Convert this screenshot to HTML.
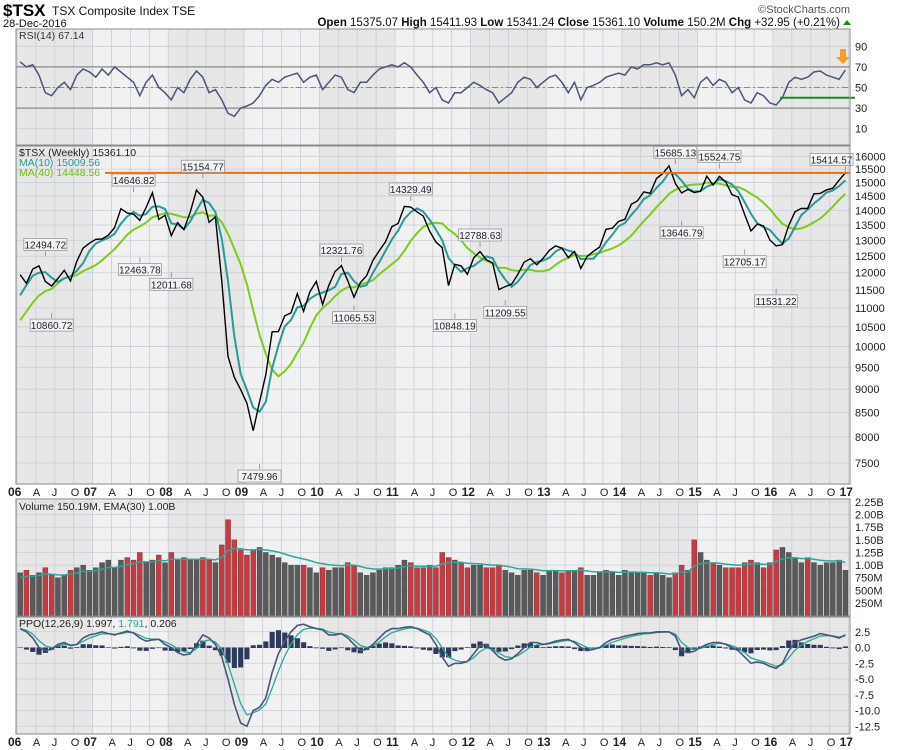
<!DOCTYPE html>
<html><head><meta charset="utf-8"><style>
html,body{margin:0;padding:0;background:#fff;width:900px;height:750px;overflow:hidden}
svg{display:block;font-family:"Liberation Sans",sans-serif}
</style></head><body>
<svg id="c" width="900" height="750" viewBox="0 0 900 750">
<text x="3" y="16" font-size="17" font-weight="bold" fill="#000">$TSX</text>
<text x="52" y="15" font-size="12" fill="#111">TSX Composite Index  TSE</text>
<text x="3" y="27" font-size="11" fill="#111">28-Dec-2016</text>
<text x="850" y="13" font-size="11" fill="#555" text-anchor="end">©StockCharts.com</text>
<text x="840" y="26" font-size="11.5" fill="#111" text-anchor="end"><tspan font-weight="bold">Open</tspan> 15375.07 <tspan font-weight="bold">High</tspan> 15411.93 <tspan font-weight="bold">Low</tspan> 15341.24 <tspan font-weight="bold">Close</tspan> 15361.10 <tspan font-weight="bold">Volume</tspan> 150.2M <tspan font-weight="bold">Chg</tspan> +32.95 (+0.21%)</text>
<polygon points="843,25 851,25 847,20" fill="#1a8a1a"/>
</svg>
<script>
// ---- data (monthly, Jan 2006 .. Dec 2016) ----
const priorCloses=[9369,9607,9903,10423,10669,11012,10383,10825,11272];
const closes=[11946,11688,12111,12204,11745,11613,11831,12074,11761,12345,12752,12908,
13034,13045,13166,13417,14057,13907,13869,13660,14099,14625,13689,13833,
13155,13583,13350,13937,14715,14467,13593,13771,11753,9763,9271,8988,
8695,8123,8720,9325,10370,10375,10787,10868,11395,10911,11447,11746,
11094,11630,12038,12211,11763,11294,11713,11914,12369,12676,12953,13443,
13552,14137,14116,13945,13803,13301,12946,12769,11624,12252,12204,11955,
12452,12644,12392,12293,11513,11597,11665,11949,12317,12423,12239,12434,
12685,12822,12750,12457,12650,12129,12487,12654,12787,13361,13395,13622,
13695,14210,14335,14652,14604,15146,15331,15626,14961,14613,14745,14632,
14674,15234,14902,15225,15014,14553,14468,13859,13307,13529,13470,13010,
12822,12860,13494,13951,14066,14065,14583,14598,14725,14787,15083,15361];
const rsi=[75,70,72,62,45,42,50,55,48,62,68,65, 60,68,62,70,65,60,55,42,55,62,50,45,
38,50,45,58,66,60,45,48,38,25,22,30, 32,35,42,52,58,55,60,62,64,55,60,62,
48,55,62,60,48,45,55,55,62,68,70,72, 70,74,70,62,55,45,50,38,35,45,45,50,
55,52,48,45,35,40,45,55,60,58,50,55, 60,62,55,45,55,38,50,52,55,60,62,64,
62,70,68,72,72,74,72,74,62,42,48,40, 55,60,52,58,55,45,50,38,35,45,42,35,
33,40,55,60,58,60,65,66,62,60,58,67];
const volume=[0.85,0.9,0.8,0.85,0.95,0.8,0.75,0.8,0.9,0.95,1.0,0.9,
0.95,1.05,1.1,0.95,1.1,1.15,1.1,1.25,1.05,1.1,1.2,1.05,
1.25,1.1,1.15,1.1,1.1,1.15,1.1,1.05,1.4,1.9,1.5,1.3,
1.2,1.3,1.35,1.25,1.2,1.15,1.05,1.0,1.0,1.0,0.95,0.85,
0.95,0.9,0.95,0.95,1.05,1.0,0.85,0.8,0.85,0.9,0.95,0.95,
1.0,1.1,1.05,0.95,0.95,1.0,0.95,1.25,1.15,1.1,1.05,0.95,
1.0,1.0,0.95,0.95,1.0,0.9,0.85,0.8,0.9,0.9,0.85,0.8,
0.9,0.9,0.85,0.9,0.9,0.95,0.8,0.8,0.85,0.9,0.85,0.8,
0.9,0.85,0.85,0.85,0.8,0.85,0.8,0.75,0.85,1.0,0.9,1.5,
1.25,1.1,1.05,1.0,0.95,0.95,0.95,1.05,1.1,1.05,0.95,1.05,
1.3,1.35,1.25,1.15,1.05,1.15,1.05,1.0,1.05,1.05,1.1,0.9];
const ppo=[3,2.5,1.5,0,-0.5,-0.3,0.5,0.8,0.3,0.5,1.5,2,
2.2,2.5,2.2,2,2.3,2.6,2.3,1.5,1,1.2,1.3,0.5,
0,-0.8,-1.2,-1.0,0.5,2,1.5,0.5,-1.5,-5,-9,-12,
-12.5,-10,-9.5,-8,-4,-1,1,2.5,3.5,3.7,3.3,3,
2.8,2,2,2.2,1.5,0.5,-0.5,-0.3,0.5,1.5,2.5,3,
3,3.2,3.3,3,2.5,2,0.5,-1.5,-3,-2.5,-2.5,-2.2,
-1,0.3,0.5,-0.5,-1.5,-2,-1.8,-1,0,0.8,0.8,0.5,
0.7,1,1.2,1.3,0.8,0,-0.5,-0.3,0,0.8,1.3,1.5,
1.8,2,2.2,2.3,2.3,2.5,2.5,2.5,1.8,-0.5,-0.8,-0.6,
0,0.5,0.8,0.8,0.5,0,-0.5,-1.5,-2.5,-2.3,-2.5,-3,
-3.3,-2.5,-0.5,0.8,1.2,1.5,1.8,2.2,2,1.8,1.5,2.0];
const annIdx=[4,5,18,19,24,29,38,51,53,62,69,73,77,104,105,111,115,120,131];
const annVal=[12494.72,10860.72,14646.82,12463.78,12011.68,15154.77,7479.96,12321.76,11065.53,14329.49,10848.19,12788.63,11209.55,15685.13,13646.79,15524.75,12705.17,11531.22,15414.57];
const annUp=[1,0,1,0,0,1,0,1,0,1,0,1,0,1,0,1,0,0,1];
const priceTicks=[16000,15500,15000,14500,14000,13500,13000,12500,12000,11500,11000,10500,10000,9500,9000,8500,8000,7500];
const rsiTicks=[90,70,50,30,10];
const volTicks=[2.25,2.0,1.75,1.5,1.25,1.0,0.75,0.5,0.25];
const volTickLabels=["2.25B","2.00B","1.75B","1.50B","1.25B","1.00B","750M","500M","250M"];
const ppoTicks=[2.5,0,-2.5,-5,-7.5,-10,-12.5];
const years=["06","07","08","09","10","11","12","13","14","15","16","17"];
const resistance=15360;
const rsiSupport=40;

// ---- layout ----
const svg=document.getElementById('c');
const NS='http://www.w3.org/2000/svg';
const L=16,R=850;
const X0=17,PX_YEAR=75.6;
const xm=i=>X0+(i+0.5)/12*PX_YEAR;
const P={rsi:[29,145],price:[146,484],vol:[499,616],ppo:[617,734]};
const yRsi=v=>87.5-(v-50)*1.03;
const lnTop=Math.log(16000),lnBot=Math.log(7500);
const yPrice=v=>156.3+(lnTop-Math.log(v))/(lnTop-lnBot)*(463-156.3);
const yVol=v=>615.6-v*50.5;
const yPpo=v=>647.5-v*6.3;
function el(tag,attrs,parent){const e=document.createElementNS(NS,tag);for(const k in attrs)e.setAttribute(k,attrs[k]);(parent||svg).appendChild(e);return e;}
function pts(arr,fy,off){return arr.map((v,i)=>xm(i+(off||0)).toFixed(1)+','+fy(v).toFixed(1)).join(' ');}

function panel(name,top,bot){
  const g=el('g',{});
  
  
  for(let k=0;k<11;k++){
    const x1=X0+k*PX_YEAR,x2=Math.min(R,X0+(k+1)*PX_YEAR);
    const r=el('rect',{x:Math.max(L,x1),y:top,width:x2-Math.max(L,x1),height:bot-top,fill:k%2?'#f1f1f1':'#e7e7e7'},g);
    
    
  }
  for(let q=0;q<=44;q++){const x=X0+q*PX_YEAR/4;if(x>R)break;
    const ln=el('line',{x1:x,x2:x,y1:top,y2:bot,stroke:'#c9ced8','stroke-width':0.8},g);
    
    
  }
  return g;
}
function frame(top,bot,name){const r=el('rect',{x:L,y:top,width:R-L,height:bot-top,fill:'none',stroke:'#8a8a8a','stroke-width':1});
  
  }
function hgrid(g,y,lab,name){
  const l=el('line',{x1:L,x2:R,y1:y,y2:y,stroke:'#c9ced8','stroke-width':0.8},g);
  
  
  const t=el('text',{x:R+5,y:y+4,'font-size':11,fill:'#222'});t.textContent=lab;
  
  
}

// ---- RSI ----
const gR=panel('rsi',...P.rsi);
rsiTicks.forEach(v=>hgrid(gR,yRsi(v),String(v),'rsi'));
[70,30].forEach(v=>{const l=el('line',{x1:L,x2:R,y1:yRsi(v),y2:yRsi(v),stroke:'#888','stroke-width':1.2});
  
  });
{const l=el('line',{x1:L,x2:R,y1:yRsi(50),y2:yRsi(50),stroke:'#888','stroke-width':1,'stroke-dasharray':'6,3,2,3'});
  
  }
{const l=el('polyline',{points:pts(rsi,yRsi),fill:'none',stroke:'#4a5578','stroke-width':1.5});
  
  }
{const l=el('line',{x1:780,x2:855,y1:yRsi(rsiSupport),y2:yRsi(rsiSupport),stroke:'#1e8a1e','stroke-width':2});
  
  }
{const a=el('polygon',{points:'840,49 846,49 846,57 850,57 843,64 836,57 840,57',fill:'#f5a020'});
  
  }
frame(...P.rsi,'rsi');
{const t=el('text',{x:19,y:39,'font-size':10.5,fill:'#333'});t.textContent='RSI(14) 67.14';
  
  }

// ---- Price ----
const gP=panel('price',...P.price);
priceTicks.forEach(v=>hgrid(gP,yPrice(v),String(v),'price'));
const all=priorCloses.concat(closes),off=priorCloses.length;
function sma(n){return closes.map((_,i)=>{let s=0;for(let k=0;k<n;k++)s+=all[i+off-k];return s/n;});}
const ma10=sma(3),ma40=sma(9);
{const l=el('polyline',{points:pts(ma40,yPrice),fill:'none',stroke:'#7ccc1a','stroke-width':2});
  
  }
{const l=el('polyline',{points:pts(ma10,yPrice),fill:'none',stroke:'#2a9a98','stroke-width':2});
  
  }
{const l=el('polyline',{points:pts(closes,yPrice),fill:'none',stroke:'#000','stroke-width':1.4});
  
  }
{const l=el('line',{x1:105,x2:R,y1:yPrice(resistance),y2:yPrice(resistance),stroke:'#f07010','stroke-width':2});
  
  }
annIdx.forEach((idx,k)=>{
  const x=xm(idx),y=yPrice(annVal[k]),up=annUp[k];
  const ly=up?y-12:y+12;
  const c=el('line',{x1:x,x2:x,y1:y,y2:up?y-5:y+5,stroke:'#999','stroke-width':1});
  
  
  const w=43;let bx=Math.min(x-w/2,R-w+3);
  const b=el('rect',{x:bx,y:ly-6,width:w,height:12,fill:'#f4f4f4',stroke:'#999','stroke-width':0.8});
  
  
  const t=el('text',{x:bx+w/2,y:ly+4,'font-size':10,fill:'#223','text-anchor':'middle'});t.textContent=annVal[k].toFixed(2);
  
  
});
frame(...P.price,'price');
{const t=el('text',{x:19,y:156,'font-size':10.5,fill:'#222'});t.textContent='$TSX (Weekly) 15361.10';
  
  }
{const t=el('text',{x:19,y:166,'font-size':10.5,fill:'#2a9a98'});t.textContent='MA(10) 15009.56';
  
  }
{const t=el('text',{x:19,y:176,'font-size':10.5,fill:'#6cbc10'});t.textContent='MA(40) 14448.56';
  
  }

// ---- x-axis labels ----
function xLabels(y,name){
  for(let q=0;q<=44;q++){const x=X0+q*PX_YEAR/4;
    const yr=q%4===0;const lab=yr?years[q/4]:['','A','J','O'][q%4];
    const t=el('text',{x:x-(yr?9:3),y:y,'font-size':yr?12:11,'font-weight':yr?'bold':'normal',fill:'#222'});t.textContent=lab;
    
    }
}
xLabels(496,'x-axis');

// ---- Volume ----
const gV=panel('volume',...P.vol);
volTicks.forEach((v,i)=>hgrid(gV,yVol(v),volTickLabels[i],'volume'));
const bw=PX_YEAR/12-1.2;
volume.forEach((v,i)=>{
  const down=closes[i]<(i?closes[i-1]:all[off-1]);
  const r=el('rect',{x:xm(i)-bw/2,y:yVol(v),width:bw,height:yVol(0)-yVol(v),fill:down?'#c83a42':'#5a5a5a',stroke:'#333','stroke-width':0.3});
  
  
});
const emaV=[];volume.forEach((v,i)=>emaV.push(i?emaV[i-1]*0.82+v*0.18:0.75));
{const l=el('polyline',{points:pts(emaV,yVol),fill:'none',stroke:'#2aa898','stroke-width':1.5});
  
  }
frame(...P.vol,'volume');
{const t=el('text',{x:19,y:510,'font-size':10.5,fill:'#222'});t.textContent='Volume 150.19M, EMA(30) 1.00B';
  
  }

// ---- PPO ----
const gQ=panel('ppo',...P.ppo);
ppoTicks.forEach(v=>hgrid(gQ,yPpo(v),v.toFixed(1),'ppo'));
const sig=[];ppo.forEach((v,i)=>sig.push(i?sig[i-1]*0.5+v*0.5:v));
ppo.forEach((v,i)=>{const h=v-sig[i];
  const r=el('rect',{x:xm(i)-bw/2,y:Math.min(yPpo(0),yPpo(h)),width:bw,height:Math.abs(yPpo(h)-yPpo(0))+0.5,fill:'#2e3a5c'});
  
  });
{const l=el('polyline',{points:pts(sig,yPpo),fill:'none',stroke:'#2aa898','stroke-width':1.3});
  
  }
{const l=el('polyline',{points:pts(ppo,yPpo),fill:'none',stroke:'#4a5578','stroke-width':1.6});
  
  }
frame(...P.ppo,'ppo');
{const t=el('text',{x:19,y:627,'font-size':10.5,fill:'#222'});t.innerHTML='PPO(12,26,9) 1.997, <tspan fill="#2aa898">1.791</tspan>, 0.206';
  
  }
xLabels(746,'bottom-x-axis');
</script>
</body></html>
